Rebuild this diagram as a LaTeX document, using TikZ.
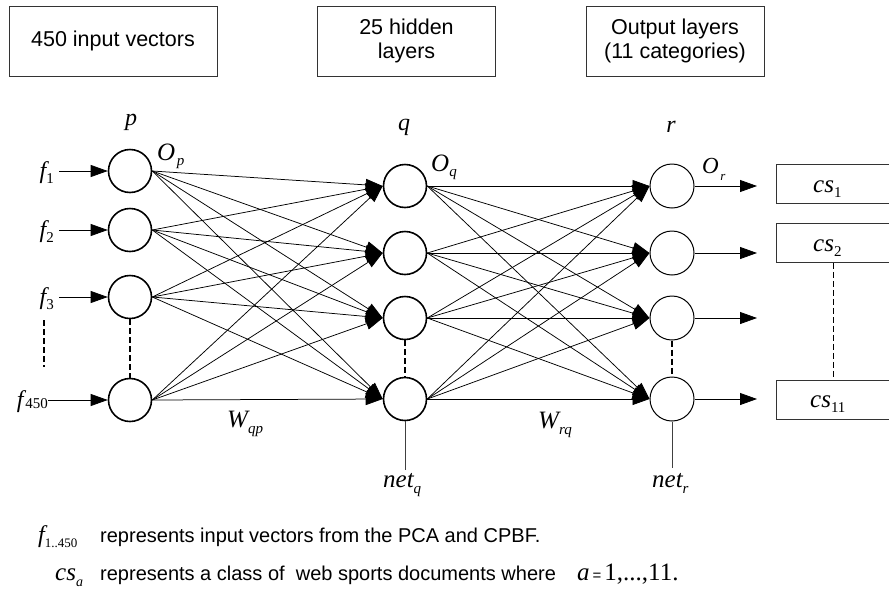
\documentclass[tikz,border=0pt]{standalone}
\usepackage{fontspec}
\setmainfont{Liberation Serif}
\setsansfont{Liberation Sans}
\usetikzlibrary{arrows.meta}
\newcommand{\fsz}[1]{\fontsize{#1}{#1}\selectfont}
\begin{document}
\begin{tikzpicture}[x=1pt,y=-1pt,
  topbox/.style={draw=black!80, line width=0.9pt, minimum height=70pt, align=center, inner sep=0pt, font=\sffamily\fsz{21.5}},
  csbox/.style={draw=black!80, line width=0.9pt, minimum height=39pt, minimum width=115pt, inner sep=0pt},
  neuron/.style={circle, draw, line width=1.6pt, minimum size=43pt, inner sep=0pt},
  oneuron/.style={circle, draw, line width=1.0pt, minimum size=44pt, inner sep=0pt},
  conn/.style={line width=0.75pt, -{Triangle[length=17pt,width=12pt]}},
  netline/.style={line width=1pt, black!75},
  dashline/.style={line width=1.8pt, dash pattern=on 6pt off 3pt},
  lab/.style={inner sep=0pt},
  txt/.style={inner sep=0pt, font=\sffamily\fsz{20}}
]
\useasboundingbox (0,0) rectangle (889,595);
\fill[white] (0,0) rectangle (889,595);

% top boxes
\node[topbox, minimum width=208pt] (b1) at (113,41) {450 input vectors};
\node[topbox, minimum width=178pt] (b2) at (406.5,41) {25 hidden\\[3pt]layers};
\node[topbox, minimum width=178pt] (b3) at (675,41) {Output layers\\[3pt](11 categories)};

% neurons
\node[neuron] (i1) at (130,171) {};
\node[neuron] (i2) at (130,230) {};
\node[neuron] (i3) at (130,297) {};
\node[neuron] (i4) at (130,400) {};
\node[neuron] (h1) at (405,186) {};
\node[neuron] (h2) at (405,253) {};
\node[neuron] (h3) at (405,318) {};
\node[neuron] (h4) at (405,399) {};
\node[oneuron] (o1) at (672,186) {};
\node[oneuron] (o2) at (672,253) {};
\node[oneuron] (o3) at (672,318) {};
\node[oneuron] (o4) at (672,399) {};

% input labels and arrows
\node[lab, anchor=base east] (lf1) at (54,178) {{\fsz{24}\itshape f}\raisebox{-5pt}{\fsz{15}1}};
\node[lab, anchor=base east] (lf2) at (54,237) {{\fsz{24}\itshape f}\raisebox{-5pt}{\fsz{15}2}};
\node[lab, anchor=base east] (lf3) at (54,304) {{\fsz{24}\itshape f}\raisebox{-5pt}{\fsz{15}3}};
\node[lab, anchor=base east] (lf4) at (48,407) {{\fsz{24}\itshape f}\,\raisebox{-1pt}{\fsz{15}450}};
\coordinate (s1) at (59,171);
\coordinate (s2) at (59,230);
\coordinate (s3) at (59,297);
\coordinate (s4) at (48,400);
\foreach \k in {1,...,4} \draw[conn] (s\k) -- (i\k);

% input -> hidden
\foreach \a in {1,...,4} \foreach \b in {1,...,4} \draw[conn] (i\a.east) -- (h\b.west);
% hidden -> output
\foreach \a in {1,...,4} \foreach \b in {1,...,4} \draw[conn] (h\a.east) -- (o\b.west);

% outputs
\coordinate (e1) at (757,186);
\coordinate (e2) at (757,253);
\coordinate (e3) at (757,318);
\coordinate (e4) at (757,399);
\foreach \k in {1,...,4} \draw[conn] (o\k) -- (e\k);

% dashed
\coordinate (d1) at (44,320);
\coordinate (d2) at (44,367);
\draw[dashline] (d1) -- (d2);
\draw[dashline] (i3) -- (i4);
\draw[dashline] (h3) -- (h4);
\draw[dashline, line width=1.6pt] (o3) -- (o4);

% layer labels
\node[lab, anchor=base] (lp) at (131,125) {\fsz{24}\itshape p};
\node[lab, anchor=base] (lq) at (404,130) {\fsz{24}\itshape q};
\node[lab, anchor=base] (lr) at (671,132) {\fsz{24}\itshape r};
\node[lab, anchor=base west] (op) at (157,160) {{\fsz{25}\itshape O}\,\raisebox{-5pt}{\fsz{15}\itshape p}};
\node[lab, anchor=base west] (oq) at (431,171) {{\fsz{25}\itshape O}\raisebox{-5pt}{\fsz{15}\itshape q}};
\node[lab, anchor=base west] (or) at (702,173) {{\fsz{23}\itshape O}\,\raisebox{-7pt}{\fsz{13}\itshape r}};
\node[lab, anchor=base west] (wqp) at (227,427) {{\fsz{25}\itshape W}\raisebox{-6pt}{\fsz{15}\itshape qp}};
\node[lab, anchor=base west] (wrq) at (538,428) {{\fsz{25}\itshape W}\raisebox{-6pt}{\fsz{15}\itshape rq}};

% net lines
\coordinate (nq) at (405,470);
\coordinate (nr) at (672,468);
\draw[netline] (h4) -- (nq);
\draw[netline] (o4) -- (nr);
\node[lab, anchor=base west] (netq) at (383,487) {{\fsz{25}\itshape net}\raisebox{-6pt}{\fsz{15}\itshape q}};
\node[lab, anchor=base west] (netr) at (652,487) {{\fsz{25}\itshape net}\raisebox{-6pt}{\fsz{15}\itshape r}};

% category boxes
\node[csbox] (c1) at (833.5,183.5) {};
\node[csbox] (c2) at (833.5,243) {};
\node[csbox] (c3) at (833.5,399.5) {};
\node[lab, anchor=base west] (t1) at (813,192) {{\fsz{25}\itshape cs}\raisebox{-5pt}{\fsz{15}1}};
\node[lab, anchor=base west] (t2) at (813,251) {{\fsz{25}\itshape cs}\raisebox{-5pt}{\fsz{15}2}};
\node[lab, anchor=base west] (t3) at (810,407) {{\fsz{25}\itshape cs}\raisebox{-5pt}{\fsz{15}11}};
\draw[dashline, line width=1.6pt] (c2) -- (c3);

% legend
\node[lab, anchor=base west] (lf) at (38,542) {{\fsz{24}\itshape f}\raisebox{-5pt}{\fsz{13}1..450}};
\node[txt, anchor=base west] (lt1) at (100,542) {represents input vectors from the PCA and CPBF.};
\node[lab, anchor=base west] (lc) at (55,580) {{\fsz{25}\itshape cs}\raisebox{-6pt}{\fsz{14}\itshape a}};
\node[txt, anchor=base west] (lt2) at (100,580) {represents a class of\ \ web sports documents where};
\node[lab, anchor=base west] (la) at (577,580) {{\fsz{25}\itshape a}\kern3pt{\sffamily\fsz{15}=}\kern3pt{\fsz{25}1,...,11.}};
\end{tikzpicture}
\end{document}
